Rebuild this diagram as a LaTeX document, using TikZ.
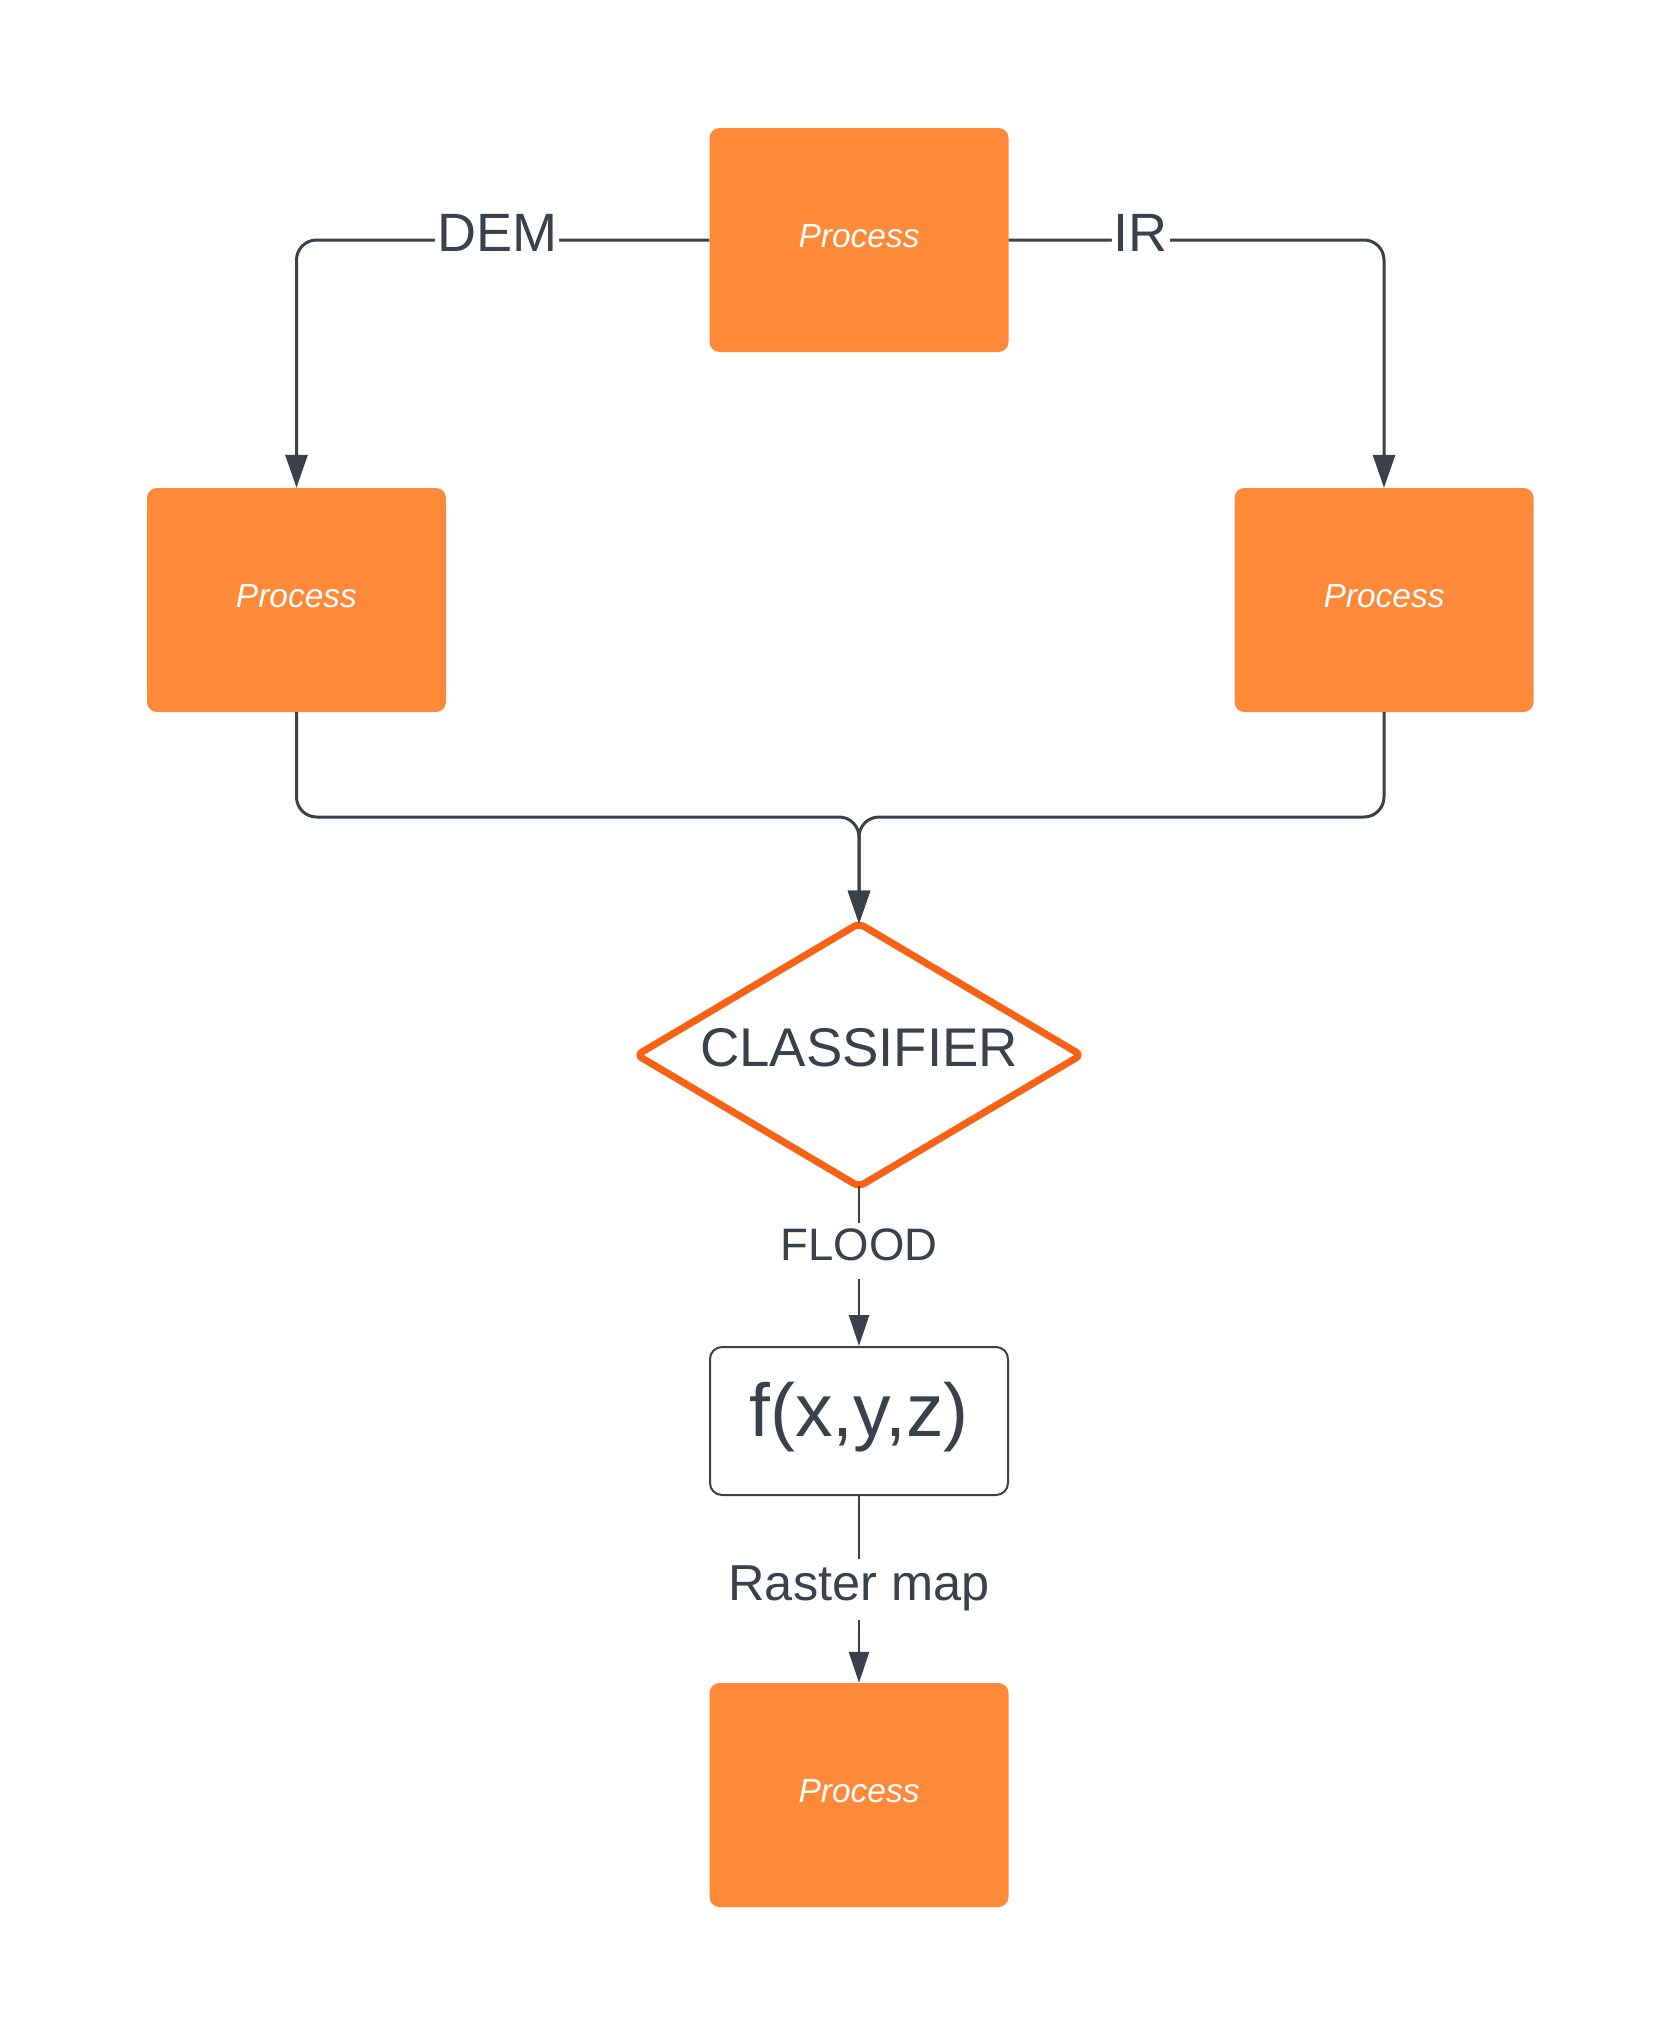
\documentclass[tikz,border=0pt]{standalone}
\usepackage{fontspec}
\setmainfont{Liberation Sans}
\usetikzlibrary{arrows.meta,shapes.geometric}
\definecolor{orangefill}{RGB}{254,138,57}
\definecolor{dorange}{RGB}{248,98,20}
\definecolor{ink}{HTML}{3A414A}
\begin{document}
\begin{tikzpicture}[x=1pt,y=-1pt,
  proc/.style={rectangle, rounded corners=10pt, fill=orangefill, minimum width=299pt, minimum height=224pt, inner sep=0pt, text=white, font=\fontsize{33.5pt}{40pt}\selectfont\itshape, text height=24.1pt, text depth=10.1pt},
  conn/.style={draw=ink, line width=3pt},
  tipbig/.style={-{Triangle[length=33pt,width=22pt]}},
  tipsmall/.style={-{Triangle[length=31pt,width=20pt]}},
  lbl/.style={fill=white, text=ink, inner xsep=2pt, inner ysep=5pt},
  f54/.style={font=\fontsize{54pt}{62pt}\selectfont, text height=38.9pt, text depth=16.2pt},
  f45/.style={font=\fontsize{45.5pt}{52pt}\selectfont, text height=32.8pt, text depth=13.7pt},
  f50/.style={font=\fontsize{50.5pt}{58pt}\selectfont, text height=36.4pt, text depth=15.2pt}
]
\useasboundingbox (0,0) rectangle (1678,2042);

\node[proc] (top) at (859,240) {Process};
\node[proc] (left) at (296.5,600) {Process};
\node[proc] (right) at (1384,600) {Process};
\node[diamond, aspect=1.68, draw=dorange, line width=7pt, rounded corners=6pt,
      minimum width=447pt, minimum height=266pt, inner sep=0pt, text=ink,
      font=\fontsize{54.5pt}{62pt}\selectfont, text height=39.2pt, text depth=16.4pt] (cls) at (859,1055) {CLASSIFIER};
\node[rectangle, draw=ink, line width=2pt, rounded corners=12pt, fill=white,
      minimum width=298pt, minimum height=148pt, inner sep=0pt, text=ink,
      font=\fontsize{75pt}{82pt}\selectfont, text height=54pt, text depth=22.5pt] (fx) at (859,1421) {f(x,y,z)};
\node[proc] (bot) at (859,1795) {Process};

\coordinate (m) at (859,817);

\draw[conn, rounded corners=20pt, tipbig] (top.west) -| node[lbl, f54, pos=0.257] (demlbl) {DEM} (left.north);
\draw[conn, rounded corners=20pt, tipbig] (top.east) -| node[lbl, f54, pos=0.176] (irlbl) {IR} (right.north);
\draw[conn, rounded corners=20pt, tipbig, shorten >=-5pt] (left.south) |- (m) -- (cls.north);
\draw[conn, rounded corners=20pt, tipbig, shorten >=-5pt] (right.south) |- (m) -- (cls.north);
\draw[conn, line width=2.5pt, tipsmall, shorten <=-6pt] (cls.south) -- node[lbl, f45, pos=0.385] (floodlbl) {FLOOD} (fx.north);
\draw[conn, line width=2.5pt, tipsmall] (fx.south) -- node[lbl, f50, pos=0.5] (rasterlbl) {Raster map} (bot.north);
\end{tikzpicture}
\end{document}
